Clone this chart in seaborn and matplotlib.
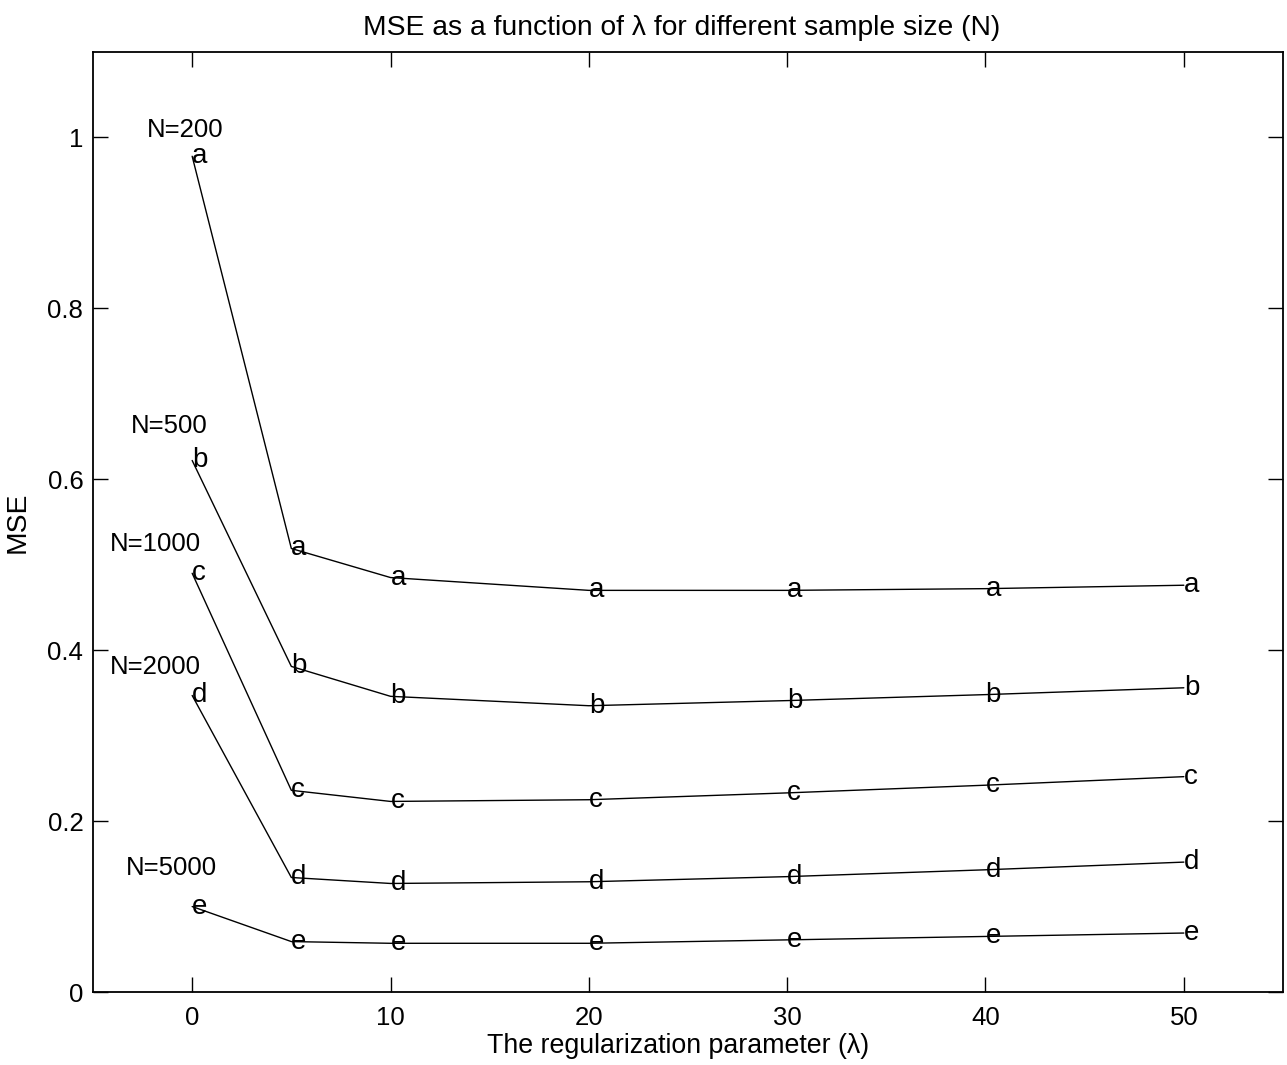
import matplotlib
matplotlib.use("Agg")
import matplotlib.pyplot as plt
import seaborn as sns
import pandas as pd
import numpy as np

lambdas = [0, 5, 10, 20, 30, 40, 50]
mse_n200 = [0.978, 0.519, 0.485, 0.470, 0.470, 0.472, 0.476]
mse_n500 = [0.622, 0.381, 0.346, 0.335, 0.341, 0.348, 0.356]
mse_n1000 = [0.490, 0.236, 0.223, 0.225, 0.233, 0.242, 0.252]
mse_n2000 = [0.347, 0.134, 0.127, 0.129, 0.135, 0.143, 0.152]
mse_n5000 = [0.100, 0.059, 0.057, 0.057, 0.061, 0.065, 0.069]

series_labels = ["N=200", "N=500", "N=1000", "N=2000", "N=5000"]
series_markers = ["a", "b", "c", "d", "e"]
series_values = [mse_n200, mse_n500, mse_n1000, mse_n2000, mse_n5000]

rows = []
for lab, vals in zip(series_labels, series_values):
    for lam, v in zip(lambdas, vals):
        rows.append({"lam": lam, "mse": v, "series": lab})
df = pd.DataFrame(rows)

sns.set_style("ticks")
plt.rcParams["font.family"] = ["Liberation Sans", "DejaVu Sans"]
plt.rcParams["text.color"] = "black"
plt.rcParams["axes.labelcolor"] = "black"
FS_TICK = 18.5
FS_TITLE = 20.3
FS_XLAB = 19.3
FS_YLAB = 20.3
FS_TXT = 18.5
FS_MK = 20.0

fig = plt.figure(figsize=(12.87, 10.65), dpi=100)
ax = fig.add_axes([93 / 1287, 1 - 992 / 1065, (1283 - 93) / 1287, (992 - 52) / 1065])

sns.lineplot(data=df, x="lam", y="mse", units="series", estimator=None,
             color="black", linewidth=1.0, ax=ax, legend=False)

for mk, vals in zip(series_markers, series_values):
    for lam, v in zip(lambdas, vals):
        ax.text(lam, v, mk, ha="left", va="center", fontsize=FS_MK, color="black")

# series name annotations (left edge x, centre y in data coords)
label_pos = [(-2.27, 1.009), (-3.11, 0.662), (-4.15, 0.524), (-4.15, 0.380), (-3.36, 0.145)]
for lab, (lx, ly) in zip(series_labels, label_pos):
    ax.text(lx, ly, lab, ha="left", va="center", fontsize=FS_TXT, color="black")

ax.set_xlim(-5, 55)
ax.set_ylim(0, 1.1)
ax.set_xticks([0, 10, 20, 30, 40, 50])
ax.set_xticklabels(["0", "10", "20", "30", "40", "50"])
ax.set_yticks([0, 0.2, 0.4, 0.6, 0.8, 1.0])
ax.set_yticklabels(["0", "0.2", "0.4", "0.6", "0.8", "1"])
ax.tick_params(direction="in", length=11, width=1, top=True, right=True,
               labelsize=FS_TICK, colors="black")
ax.tick_params(axis="y", pad=7)
ax.tick_params(axis="x", pad=10)
for s in ax.spines.values():
    s.set_visible(True)
    s.set_linewidth(1.3)
    s.set_color("black")

ax.set_xlabel("The regularization parameter (λ)", fontsize=FS_XLAB)
ax.xaxis.set_label_coords((678 - 93) / 1190, -(1046 - 992) / 940, transform=ax.transAxes)
ax.xaxis.label.set_va("center")
ax.set_ylabel("MSE", fontsize=FS_YLAB)
ax.yaxis.set_label_coords(-(93 - 18) / 1190, 0.5, transform=ax.transAxes)
ax.yaxis.label.set_va("center")
ax.set_title("MSE as a function of λ for different sample size (N)", fontsize=FS_TITLE,
             x=(681.5 - 93) / 1190, y=1 + (52 - 28) / 940, va="center", pad=0)

fig.savefig("out.png", dpi=100)
